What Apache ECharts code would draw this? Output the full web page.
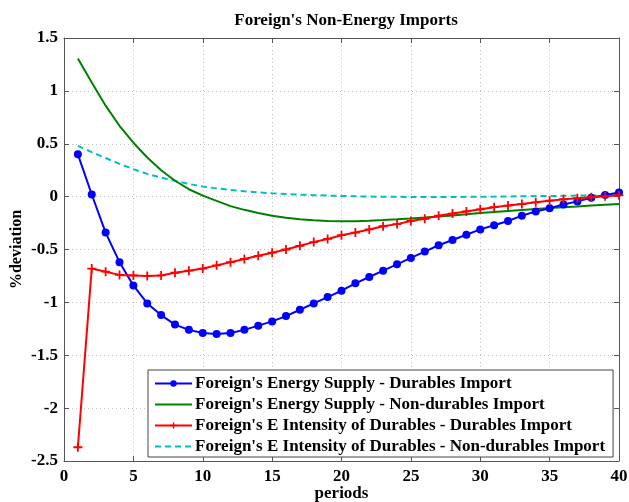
<!DOCTYPE html>
<html>
<head>
<meta charset="utf-8">
<script src="https://cdn.jsdelivr.net/npm/echarts@6/dist/echarts.min.js"></script>
<style>
  html, body { margin: 0; padding: 0; background: #fff; }
  #chart { width: 629px; height: 502px; }
</style>
</head>
<body>
<div id="chart"></div>
<script>
// Impulse responses over 40 periods
const periods = [1,2,3,4,5,6,7,8,9,10,11,12,13,14,15,16,17,18,19,20,
                 21,22,23,24,25,26,27,28,29,30,31,32,33,34,35,36,37,38,39,40];

const energySupplyDurables = [0.40,0.02,-0.34,-0.62,-0.84,-1.01,-1.12,-1.21,-1.26,-1.29,
  -1.30,-1.29,-1.26,-1.22,-1.18,-1.13,-1.07,-1.01,-0.95,-0.89,
  -0.82,-0.76,-0.70,-0.64,-0.58,-0.52,-0.46,-0.41,-0.36,-0.31,
  -0.27,-0.23,-0.18,-0.14,-0.11,-0.075,-0.045,-0.01,0.015,0.04];

const energySupplyNonDurables = [1.305,1.08,0.86,0.67,0.51,0.37,0.25,0.15,0.07,0.01,
  -0.04,-0.09,-0.125,-0.155,-0.18,-0.20,-0.213,-0.223,-0.23,-0.232,
  -0.232,-0.228,-0.222,-0.215,-0.207,-0.198,-0.188,-0.178,-0.166,-0.155,
  -0.145,-0.135,-0.126,-0.117,-0.108,-0.10,-0.093,-0.085,-0.077,-0.069];

const intensityDurables = [-2.37,-0.68,-0.71,-0.74,-0.745,-0.75,-0.745,-0.72,-0.70,-0.68,
  -0.65,-0.62,-0.59,-0.56,-0.53,-0.50,-0.465,-0.43,-0.40,-0.365,
  -0.34,-0.31,-0.28,-0.26,-0.23,-0.21,-0.18,-0.16,-0.14,-0.12,
  -0.10,-0.085,-0.07,-0.054,-0.038,-0.025,-0.015,-0.006,0.003,0.012];

const intensityNonDurables = [0.48,0.42,0.365,0.31,0.26,0.215,0.18,0.15,0.12,0.095,
  0.078,0.063,0.05,0.04,0.032,0.025,0.019,0.014,0.01,0.006,
  0.003,0.001,-0.001,-0.002,-0.003,-0.003,-0.003,-0.003,-0.002,-0.001,
  0.0,0.002,0.003,0.005,0.006,0.008,0.01,0.011,0.013,0.015];

const seriesNames = [
  "Foreign's Energy Supply - Durables Import",
  "Foreign's Energy Supply - Non-durables Import",
  "Foreign's E Intensity of Durables - Durables Import",
  "Foreign's E Intensity of Durables - Non-durables Import"
];

const xTicks = { min: 0, max: 40, interval: 5 };
const yTicks = { min: -2.5, max: 1.5, interval: 0.5 };

const serif = '"Liberation Serif", "DejaVu Serif", serif';
const plusPath = 'path://M4,0H6V4H10V6H6V10H4V6H0V4H4Z';

function pairs(vals) { return periods.map((p, i) => [p, vals[i]]); }

const chart = echarts.init(document.getElementById('chart'), null, { renderer: 'canvas' });

// Top and right axes only close the box: ticks pointing inward, no labels
const frameAxis = {
  axisLine: { show: true, onZero: false, lineStyle: { color: '#555', width: 1 } },
  axisTick: { show: true, inside: true, length: 5, lineStyle: { color: '#555' } },
  axisLabel: { show: false },
  splitLine: { show: false }
};

const tickFont = { fontFamily: serif, fontWeight: 'bold', fontSize: 17, color: '#000' };

chart.setOption({
  animation: false,
  backgroundColor: '#fff',
  title: {
    text: "Foreign's Non-Energy Imports",
    left: 341, top: 7, textAlign: 'center',
    textStyle: { fontFamily: serif, fontWeight: 'bold', fontSize: 17, color: '#000' }
  },
  grid: { left: 64, top: 38, right: 10, bottom: 41, containLabel: false, outerBoundsMode: 'none' },
  legend: {
    orient: 'vertical',
    left: 148, top: 370,
    padding: [5, 8, 2, 6],
    itemGap: 4,
    itemWidth: 37, itemHeight: 8,
    backgroundColor: '#fff',
    borderColor: '#444', borderWidth: 1,
    textStyle: { fontFamily: serif, fontWeight: 'bold', fontSize: 17, lineHeight: 17, color: '#000', padding: [0, 0, 0, -2] },
    data: [
      { name: seriesNames[0] },
      { name: seriesNames[1], itemStyle: { opacity: 0 } },
      { name: seriesNames[2] },
      { name: seriesNames[3], itemStyle: { opacity: 0 } }
    ]
  },
  xAxis: [
    {
      type: 'value', min: xTicks.min, max: xTicks.max, interval: xTicks.interval,
      name: 'periods', nameLocation: 'middle', nameGap: 24, nameMoveOverlap: false,
      nameTextStyle: { fontFamily: serif, fontWeight: 'bold', fontSize: 17, color: '#000' },
      axisLine: { show: true, onZero: false, lineStyle: { color: '#555' } },
      axisTick: { show: true, inside: true, length: 5, lineStyle: { color: '#555' } },
      axisLabel: Object.assign({ margin: 7 }, tickFont),
      splitLine: { show: true, lineStyle: { color: '#c0c0c0', type: [1, 3], width: 1 } }
    },
    Object.assign({ type: 'value', position: 'top', min: xTicks.min, max: xTicks.max, interval: xTicks.interval }, frameAxis)
  ],
  yAxis: [
    {
      type: 'value', min: yTicks.min, max: yTicks.max, interval: yTicks.interval,
      name: '%deviation', nameLocation: 'middle', nameGap: 39, nameMoveOverlap: false,
      nameTextStyle: { fontFamily: serif, fontWeight: 'bold', fontSize: 16, color: '#000' },
      axisLine: { show: true, onZero: false, lineStyle: { color: '#555' } },
      axisTick: { show: true, inside: true, length: 5, lineStyle: { color: '#555' } },
      axisLabel: Object.assign({ margin: 6 }, tickFont),
      splitLine: { show: true, lineStyle: { color: '#c0c0c0', type: [1, 3], width: 1 } }
    },
    Object.assign({ type: 'value', position: 'right', min: yTicks.min, max: yTicks.max, interval: yTicks.interval }, frameAxis)
  ],
  series: [
    {
      name: seriesNames[0], type: 'line', data: pairs(energySupplyDurables),
      symbol: 'circle', symbolSize: 8, showSymbol: true,
      lineStyle: { color: '#0000ff', width: 2 },
      itemStyle: { color: '#0000ff' }, z: 3
    },
    {
      name: seriesNames[1], type: 'line', data: pairs(energySupplyNonDurables),
      symbol: 'none',
      lineStyle: { color: '#008000', width: 2 },
      itemStyle: { color: '#008000' }, z: 2
    },
    {
      name: seriesNames[2], type: 'line', data: pairs(intensityDurables),
      symbol: plusPath, symbolSize: 9, showSymbol: true,
      lineStyle: { color: '#ff0000', width: 2 },
      itemStyle: { color: '#ff0000' }, z: 4
    },
    {
      name: seriesNames[3], type: 'line', data: pairs(intensityNonDurables),
      symbol: 'none',
      lineStyle: { color: '#00bfbf', width: 2, type: [6, 4] },
      itemStyle: { color: '#00bfbf' }, z: 1
    }
  ]
});
</script>
</body>
</html>
